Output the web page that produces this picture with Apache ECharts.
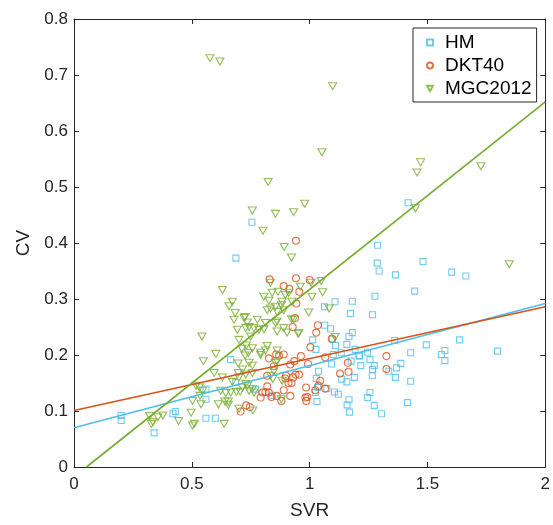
<!DOCTYPE html>
<html>
<head>
<meta charset="utf-8">
<script src="https://cdn.jsdelivr.net/npm/echarts@6/dist/echarts.min.js"></script>
<style>
  html, body { margin: 0; padding: 0; background: #fff; }
  #chart { width: 553px; height: 525px; }
</style>
</head>
<body>
<div id="chart"></div>
<script>
// 点数据 [SVR, CV]
const hmPoints = [
  [0.20, 0.092], [0.20, 0.083], [0.34, 0.061], [0.42, 0.095], [0.43, 0.099],
  [0.56, 0.139], [0.56, 0.121], [0.56, 0.087], [0.60, 0.087], [0.665, 0.192],
  [0.686, 0.151], [0.687, 0.373], [0.755, 0.437], [0.771, 0.139], [0.841, 0.128],
  [1.418, 0.472], [1.288, 0.396], [1.287, 0.364], [1.295, 0.35], [1.364, 0.343],
  [1.481, 0.367], [1.446, 0.314], [1.603, 0.348], [1.663, 0.341], [1.277, 0.305],
  [1.267, 0.272], [1.181, 0.296], [1.173, 0.274], [1.108, 0.295], [1.063, 0.286],
  [1.064, 0.253], [1.089, 0.247], [1.181, 0.24], [1.167, 0.233], [1.013, 0.227],
  [1.027, 0.21], [1.11, 0.217], [1.158, 0.219], [1.1, 0.201], [1.134, 0.204],
  [1.193, 0.21], [1.246, 0.205], [1.21, 0.199], [1.256, 0.192], [1.176, 0.189],
  [1.217, 0.181], [1.274, 0.181], [1.267, 0.174], [1.266, 0.163], [1.093, 0.184],
  [1.038, 0.171], [1.028, 0.158], [1.034, 0.142], [1.024, 0.133], [1.031, 0.117],
  [1.073, 0.14], [1.105, 0.134], [1.122, 0.13], [1.19, 0.16], [1.136, 0.157],
  [1.158, 0.152], [1.167, 0.12], [1.159, 0.111], [1.169, 0.098], [1.246, 0.124],
  [1.256, 0.133], [1.274, 0.11], [1.305, 0.095], [1.415, 0.115], [1.361, 0.226],
  [1.429, 0.204], [1.495, 0.218], [1.369, 0.177], [1.387, 0.185], [1.364, 0.16],
  [1.336, 0.171], [1.429, 0.153], [1.56, 0.201], [1.574, 0.208], [1.574, 0.19],
  [1.636, 0.227], [1.797, 0.207], [1.097, 0.228], [1.211, 0.198]
];
const dktPoints = [
  [0.942, 0.404], [0.83, 0.335], [0.942, 0.337], [1.0, 0.334], [0.89, 0.323],
  [0.914, 0.318], [0.956, 0.313], [0.944, 0.292], [0.938, 0.266], [0.928, 0.25],
  [1.035, 0.253], [1.028, 0.24], [1.094, 0.229], [1.003, 0.214], [0.858, 0.201],
  [0.89, 0.201], [0.963, 0.198], [1.066, 0.196], [0.935, 0.189], [0.918, 0.183],
  [0.993, 0.184], [1.162, 0.186], [1.326, 0.198], [1.326, 0.175], [0.848, 0.18],
  [1.129, 0.167], [1.165, 0.17], [0.94, 0.165], [0.955, 0.165], [0.897, 0.158],
  [0.923, 0.15], [1.045, 0.154], [1.038, 0.145], [1.066, 0.14], [1.024, 0.137],
  [0.89, 0.137], [0.827, 0.133], [0.918, 0.127], [0.982, 0.124], [0.99, 0.125],
  [0.986, 0.118], [0.88, 0.118], [0.838, 0.125], [0.827, 0.194], [0.82, 0.163],
  [0.82, 0.144], [0.813, 0.134], [0.8, 0.133], [0.792, 0.124], [0.731, 0.11],
  [0.707, 0.099], [0.746, 0.107], [0.87, 0.199], [0.9, 0.163], [0.93, 0.16],
  [0.91, 0.15], [0.86, 0.127], [0.985, 0.142]
];
const mgcPoints = [
  [0.577, 0.73], [0.619, 0.724], [1.098, 0.68], [1.052, 0.562], [1.471, 0.544],
  [1.456, 0.526], [1.727, 0.537], [1.449, 0.462], [0.824, 0.509], [0.757, 0.458],
  [0.855, 0.452], [0.932, 0.455], [0.979, 0.47], [0.802, 0.422], [0.892, 0.393],
  [0.923, 0.374], [1.847, 0.362], [0.63, 0.316], [0.834, 0.329], [0.961, 0.322],
  [1.049, 0.332], [1.006, 0.329], [1.055, 0.312], [1.01, 0.304], [0.911, 0.311],
  [0.883, 0.295], [0.855, 0.286], [0.834, 0.283], [0.923, 0.264], [0.996, 0.276],
  [1.083, 0.283], [0.862, 0.26], [0.89, 0.248], [0.951, 0.238], [0.862, 0.242],
  [1.108, 0.232], [0.862, 0.208], [0.855, 0.186], [0.844, 0.157], [0.883, 0.154],
  [0.88, 0.121], [0.806, 0.304], [0.841, 0.311], [0.866, 0.313], [0.897, 0.307],
  [0.925, 0.295], [0.88, 0.289], [0.82, 0.28], [0.862, 0.277], [0.89, 0.28],
  [0.722, 0.266], [0.736, 0.258], [0.778, 0.263], [0.764, 0.248], [0.813, 0.257],
  [0.806, 0.246], [0.855, 0.257], [0.904, 0.24], [0.954, 0.239], [0.932, 0.263],
  [0.729, 0.248], [0.672, 0.295], [0.658, 0.287], [0.684, 0.275], [0.679, 0.263],
  [0.726, 0.268], [0.693, 0.245], [0.543, 0.233], [0.743, 0.25], [0.827, 0.297],
  [0.7, 0.227], [0.75, 0.233], [0.602, 0.202], [0.549, 0.189], [0.595, 0.168],
  [0.731, 0.217], [0.712, 0.211], [0.74, 0.204], [0.726, 0.199], [0.82, 0.216],
  [0.813, 0.208], [0.792, 0.2], [0.757, 0.181], [0.697, 0.185], [0.697, 0.168],
  [0.7, 0.16], [0.63, 0.16], [0.672, 0.152], [0.665, 0.133], [0.644, 0.132],
  [0.623, 0.136], [0.689, 0.134], [0.705, 0.135], [0.743, 0.136], [0.729, 0.148],
  [0.764, 0.133], [0.532, 0.142], [0.518, 0.145], [0.546, 0.136], [0.535, 0.127],
  [0.503, 0.118], [0.539, 0.112], [0.613, 0.112], [0.641, 0.117], [0.655, 0.117],
  [0.655, 0.111], [0.7, 0.104], [0.759, 0.101], [0.444, 0.082], [0.497, 0.097],
  [0.511, 0.077], [0.503, 0.074], [0.637, 0.077], [0.377, 0.092], [0.356, 0.089],
  [0.335, 0.08], [0.321, 0.091], [0.328, 0.077], [0.757, 0.212], [0.743, 0.186],
  [0.715, 0.174], [0.729, 0.165], [0.757, 0.168], [0.834, 0.163], [0.848, 0.171],
  [0.862, 0.189], [0.715, 0.142], [0.736, 0.145], [0.757, 0.139], [0.785, 0.245],
  [0.792, 0.204]
];
// 拟合直线端点
const hmFit = [[0, 0.070], [2, 0.292]];
const dktFit = [[0, 0.101], [2, 0.286]];
const mgcFit = [[0.053, 0], [2, 0.652]];

const xTicks = { min: 0, max: 2, interval: 0.5 };
const yTicks = { min: 0, max: 0.8, interval: 0.1 };

const colors = { hm: '#4DBEEE', dkt: '#D95319', mgc: '#77AC30' };
const axisColor = '#262626';
const font = 'Liberation Sans, Arial, Helvetica, sans-serif';
// 倒三角
const downTriangle = 'path://M0,0L10,0L5,9Z';

const chart = echarts.init(document.getElementById('chart'), null, { renderer: 'canvas' });

function boxAxis(base, showLabel) {
  return Object.assign({
    type: 'value',
    axisLine: { show: true, onZero: false, lineStyle: { color: axisColor, width: 1 } },
    axisTick: { show: true, inside: true, length: 5, lineStyle: { color: axisColor } },
    axisLabel: { show: showLabel, color: axisColor, fontSize: 17, fontFamily: font },
    splitLine: { show: false }
  }, base);
}

function scatter(name, data, color, symbol, size) {
  return {
    name: name,
    type: 'scatter',
    data: data,
    symbol: symbol,
    symbolSize: size,
    itemStyle: { color: 'rgba(0,0,0,0)', borderColor: color, borderWidth: 1.1 },
    z: 2
  };
}

function fitLine(name, data, color) {
  return {
    name: name,
    type: 'line',
    data: data,
    showSymbol: false,
    symbol: 'none',
    lineStyle: { color: color, width: 1.6 },
    z: 3
  };
}

chart.setOption({
  animation: false,
  backgroundColor: '#fff',
  grid: { left: 74, right: 5, top: 19, bottom: 53 },
  xAxis: [
    boxAxis(Object.assign({
      position: 'bottom',
      name: 'SVR',
      nameLocation: 'middle',
      nameGap: 34,
      nameTextStyle: { color: axisColor, fontSize: 19, fontFamily: font },
      axisLabel: { show: true, color: axisColor, fontSize: 17, fontFamily: font, margin: 9 }
    }, xTicks), true),
    boxAxis(Object.assign({ position: 'top' }, xTicks), false)
  ],
  yAxis: [
    boxAxis(Object.assign({
      position: 'left',
      name: 'CV',
      nameLocation: 'middle',
      nameGap: 40,
      nameTextStyle: { color: axisColor, fontSize: 19, fontFamily: font },
      axisLabel: { show: true, color: axisColor, fontSize: 17, fontFamily: font, margin: 6 }
    }, yTicks), true),
    boxAxis(Object.assign({ position: 'right' }, yTicks), false)
  ],
  legend: {
    data: [
      { name: 'HM', icon: 'rect' },
      { name: 'DKT40', icon: 'circle' },
      { name: 'MGC2012', icon: downTriangle }
    ],
    orient: 'vertical',
    left: 413,
    top: 28,
    padding: [5, 5, 4, 13],
    itemGap: 4,
    itemWidth: 6,
    itemHeight: 6,
    borderColor: axisColor,
    borderWidth: 1,
    borderRadius: 0,
    backgroundColor: '#fff',
    textStyle: { color: '#000', fontSize: 19, fontFamily: font, padding: [0, 0, 0, 7] }
  },
  series: [
    scatter('HM', hmPoints, colors.hm, 'rect', 6),
    scatter('DKT40', dktPoints, colors.dkt, 'circle', 7),
    scatter('MGC2012', mgcPoints, colors.mgc, downTriangle, [8, 7]),
    fitLine('HM fit', hmFit, colors.hm),
    fitLine('DKT40 fit', dktFit, colors.dkt),
    fitLine('MGC2012 fit', mgcFit, colors.mgc)
  ]
});
</script>
</body>
</html>
